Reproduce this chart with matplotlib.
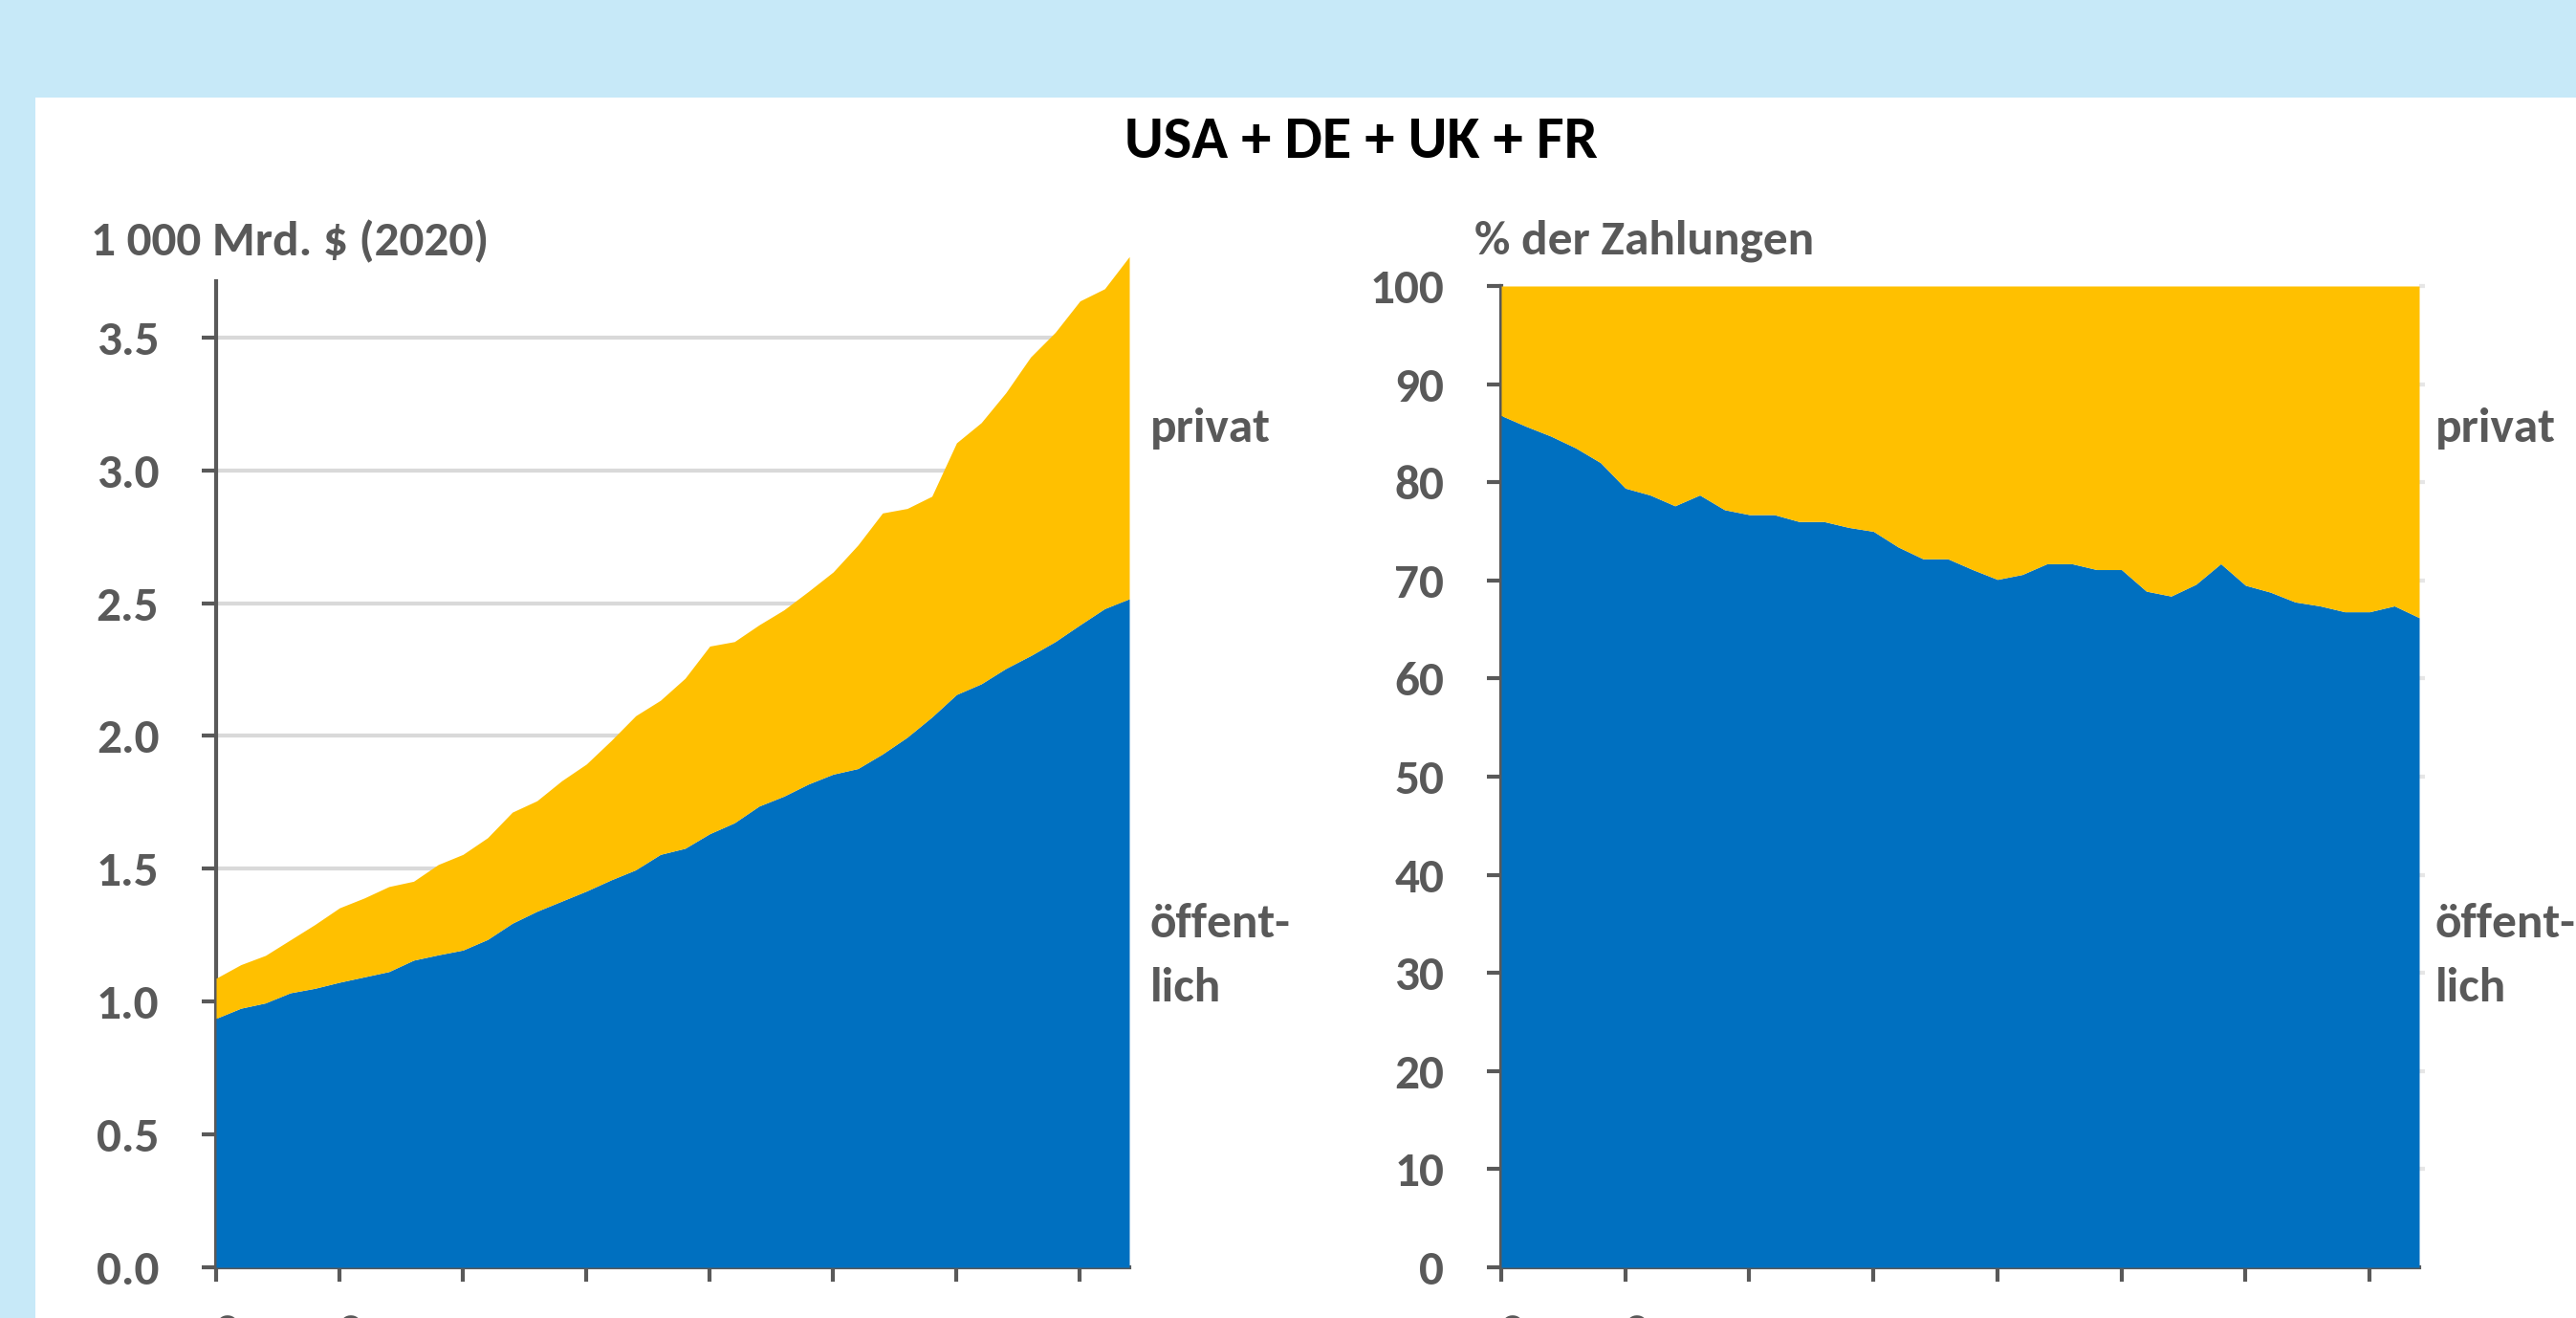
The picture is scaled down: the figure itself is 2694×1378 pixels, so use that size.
import numpy as np
import matplotlib
matplotlib.use("Agg")
import matplotlib.pyplot as plt

# years 1980..2017
years = list(range(1980, 2018))

# left panel: 1 000 Mrd. $ (2020)
total = [1.088, 1.139, 1.174, 1.232, 1.290, 1.353, 1.390, 1.433, 1.453, 1.516,
         1.554, 1.617, 1.713, 1.756, 1.831, 1.894, 1.982, 2.076, 2.134, 2.217,
         2.338, 2.355, 2.418, 2.474, 2.544, 2.617, 2.718, 2.839, 2.856, 2.902,
         3.103, 3.179, 3.292, 3.426, 3.519, 3.637, 3.683, 3.804]
public = [0.937, 0.975, 0.995, 1.033, 1.050, 1.073, 1.093, 1.113, 1.156, 1.176,
          1.194, 1.234, 1.295, 1.340, 1.378, 1.416, 1.458, 1.496, 1.554, 1.577,
          1.632, 1.673, 1.736, 1.773, 1.819, 1.856, 1.877, 1.932, 1.995, 2.071,
          2.156, 2.196, 2.254, 2.302, 2.355, 2.418, 2.479, 2.516]

# right panel: % der Zahlungen (public share)
public_share = [86.8, 85.7, 84.7, 83.5, 82.0, 79.4, 78.7, 77.6, 78.7, 77.2,
                76.7, 76.7, 76.0, 76.0, 75.4, 75.0, 73.4, 72.2, 72.2, 71.1,
                70.1, 70.6, 71.7, 71.7, 71.1, 71.1, 68.9, 68.4, 69.6, 71.7,
                69.5, 68.8, 67.8, 67.4, 66.8, 66.8, 67.4, 66.2]

xtick_years = [1980, 1985, 1990, 1995, 2000, 2005, 2010, 2015]
left_yticks = [0.0, 0.5, 1.0, 1.5, 2.0, 2.5, 3.0, 3.5]
right_yticks = [0, 10, 20, 30, 40, 50, 60, 70, 80, 90, 100]

BLUE = "#0070C0"
YELLOW = "#FFC000"
GREY = "#595959"
GRID = "#D9D9D9"
BG = "#C7E9F8"

plt.rcParams['font.family'] = ['Carlito', 'Lato', 'DejaVu Sans']
plt.rcParams['font.weight'] = 'bold'

W, H = 2694, 1378
FS = 37
fig = plt.figure(figsize=(W / 100, H / 100), dpi=100)
fig.patch.set_facecolor(BG)

# white panel
fig.patches.append(plt.Rectangle((37 / W, 0), 1 - 37 / W, (H - 102) / H,
                                 transform=fig.transFigure, facecolor="white",
                                 edgecolor="none", zorder=-5))


def fx(px):
    return px / W


def fy(py):
    return (H - py) / H


def style_axes(ax):
    for s in ["top", "right"]:
        ax.spines[s].set_visible(False)
    for s in ["left", "bottom"]:
        ax.spines[s].set_color(GREY)
        ax.spines[s].set_linewidth(3)
    ax.tick_params(axis="both", colors=GREY, width=3, length=11,
                   labelsize=FS, labelcolor=GREY)
    ax.tick_params(axis="y", pad=32)
    ax.tick_params(axis="x", pad=25)
    ax.set_xticks(xtick_years)
    ax.set_xticklabels([str(y) for y in xtick_years])
    ax.set_facecolor("none")


# ---- left panel ----
y0 = 1325
ytop_l = 3.85
px_per_unit = 277.8
axl = fig.add_axes([fx(226), fy(y0), fx(1181) - fx(226),
                    (ytop_l * px_per_unit) / H])
axl.fill_between(years, 0, public, color=BLUE, linewidth=0, zorder=3)
axl.fill_between(years, public, total, color=YELLOW, linewidth=0, zorder=3)
for v in left_yticks[1:]:
    axl.axhline(v, color=GRID, linewidth=3, zorder=1)
axl.set_xlim(1980, 2017)
axl.set_ylim(0, ytop_l)
style_axes(axl)
axl.set_yticks(left_yticks)
axl.set_yticklabels([f"{v:.1f}" for v in left_yticks])
axl.spines["left"].set_bounds(0, 3.71)

# ---- right panel ----
axr = fig.add_axes([fx(1570), fy(y0), fx(2530) - fx(1570), (y0 - 299) / H])
axr.fill_between(years, 0, public_share, color=BLUE, linewidth=0, zorder=3)
axr.fill_between(years, public_share, 100, color=YELLOW, linewidth=0, zorder=3)
axr.hlines(right_yticks[1:], 2017, 2017.25, color="#E6E6E6", linewidth=3,
           clip_on=False, zorder=1)
axr.set_xlim(1980, 2017)
axr.set_ylim(0, 100)
style_axes(axr)
axr.set_yticks(right_yticks)
axr.set_yticklabels([str(v) for v in right_yticks])

# ---- texts ----
fig.text((1176 + 1670) / 2 / W, fy(165), "USA + DE + UK + FR", ha="center",
         va="baseline", fontsize=45, color="black", fontweight="bold")
fig.text(fx(95), fy(267), "1 000 Mrd. $ (2020)", ha="left", va="baseline",
         fontsize=FS, color=GREY, fontweight="bold")
fig.text(fx(1542), fy(265), "% der Zahlungen", ha="left", va="baseline",
         fontsize=FS, color=GREY, fontweight="bold")
for xl in (1203, 2547):
    fig.text(fx(xl), fy(462), "privat", ha="left", va="baseline",
             fontsize=FS, color=GREY, fontweight="bold")
    fig.text(fx(xl), fy(980), "öffent-", ha="left", va="baseline",
             fontsize=FS, color=GREY, fontweight="bold")
    fig.text(fx(xl), fy(1047), "lich", ha="left", va="baseline",
             fontsize=FS, color=GREY, fontweight="bold")

fig.savefig("out.png", dpi=100, facecolor=fig.get_facecolor())
